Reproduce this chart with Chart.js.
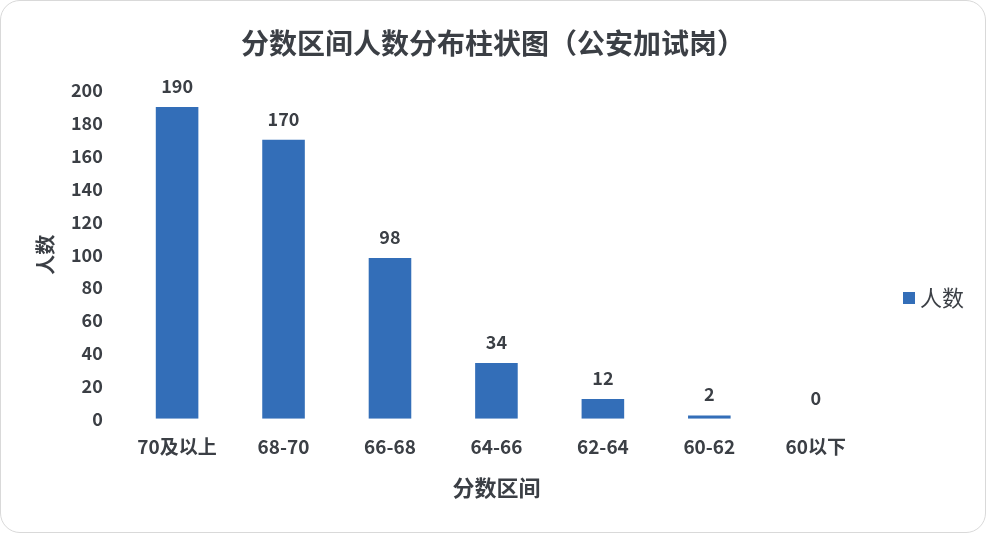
<!DOCTYPE html>
<html>
<head>
<meta charset="utf-8">
<script src="https://cdn.jsdelivr.net/npm/chart.js@4"></script>
<style>
  body { margin: 0; background: #fff; }
  #box {
    width: 984px; height: 531px;
    border: 1px solid #d9d9d9; border-radius: 20px;
    overflow: hidden; position: relative;
  }
</style>
</head>
<body>
<div id="box"><canvas id="myChart"></canvas></div>
<script>
var ranges = ['70及以上', '68-70', '66-68', '64-66', '62-64', '60-62', '60以下'];
var counts = [190, 170, 98, 34, 12, 2, 0];
var yTicks = [0, 20, 40, 60, 80, 100, 120, 140, 160, 180, 200];
var seriesName = '人数';

var txt = '#3b3f45';
var barColor = '#336eb8';
var fnt = '"Noto Sans CJK SC", "Noto Sans", sans-serif';

// labels above the bars + legend on the right
var barLabels = {
    id: 'barLabels',
    afterDatasetsDraw: function (chart) {
        var c = chart.ctx;
        var meta = chart.getDatasetMeta(0);
        var area = chart.chartArea;
        c.save();
        c.font = 'bold 18px ' + fnt;
        c.fillStyle = txt;
        c.textAlign = 'center';
        c.textBaseline = 'middle';
        meta.data.forEach(function (bar, i) {
            c.fillText(counts[i], bar.x, bar.y - 21);
        });
        // legend
        var lx = area.right + 34;
        var ly = 297;
        c.fillStyle = barColor;
        c.fillRect(lx, ly - 6, 12, 12);
        c.fillStyle = txt;
        c.font = '22px ' + fnt;
        c.textAlign = 'left';
        c.fillText(seriesName, lx + 17, ly);
        c.restore();
    }
};

var ctx = document.getElementById('myChart').getContext('2d');
var mychart = new Chart(ctx, {
    type: 'bar',
    data: {
        labels: ranges,
        datasets: [{
            label: seriesName,
            data: counts,
            backgroundColor: barColor,
            borderWidth: 0,
            categoryPercentage: 1,
            barPercentage: 0.4
        }]
    },
    options: {
        responsive: true,
        maintainAspectRatio: false,
        animation: false,
        layout: { padding: { left: 28, right: 28, top: 14, bottom: 27 } },
        plugins: {
            legend: { display: false },
            title: {
                display: true,
                text: '分数区间人数分布柱状图（公安加试岗）',
                color: txt,
                font: { family: fnt, size: 28, weight: 'bold' },
                padding: { top: 12, bottom: 30 }
            },
            tooltip: { enabled: false }
        },
        scales: {
            x: {
                grid: { display: false },
                border: { display: false },
                ticks: {
                    color: txt,
                    font: { family: fnt, size: 19, weight: 'bold' },
                    padding: 9
                },
                title: {
                    display: true,
                    text: '分数区间',
                    color: txt,
                    font: { family: fnt, size: 22, weight: 'bold' },
                    padding: { top: 7 }
                }
            },
            y: {
                min: 0,
                max: 200,
                grid: { display: false },
                border: { display: false },
                afterBuildTicks: function (axis) {
                    axis.ticks = yTicks.map(function (v) { return { value: v }; });
                },
                ticks: {
                    color: txt,
                    font: { family: fnt, size: 18, weight: 'bold' },
                    padding: 13
                },
                title: {
                    display: true,
                    text: seriesName,
                    color: txt,
                    font: { family: fnt, size: 20, weight: 'bold' },
                    padding: { bottom: 1 }
                }
            },
            // empty space on the right for the legend
            side: {
                position: 'right',
                display: true,
                grid: { display: false },
                border: { display: false },
                ticks: { display: false },
                afterFit: function (axis) { axis.width = 88; }
            }
        }
    },
    plugins: [barLabels]
});
</script>
</body>
</html>
